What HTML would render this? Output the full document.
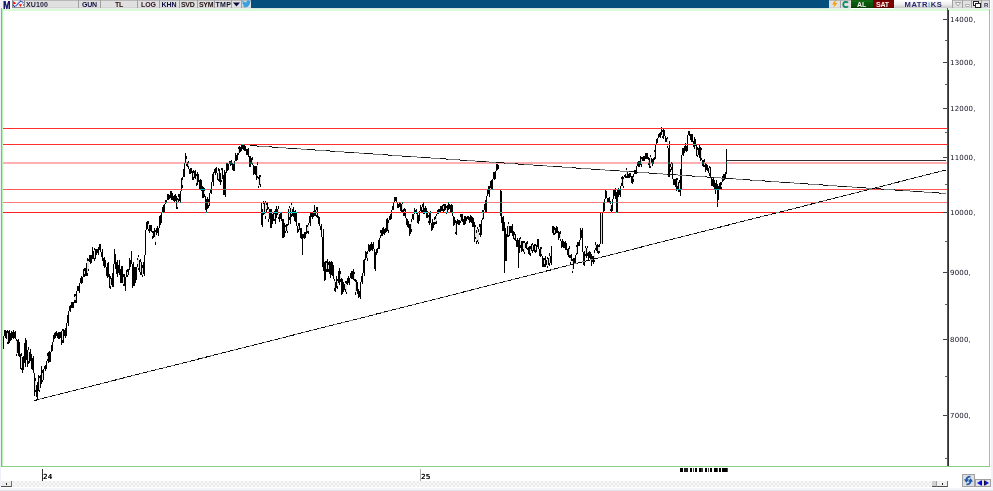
<!DOCTYPE html>
<html><head><meta charset="utf-8"><title>XU100</title>
<style>
*{margin:0;padding:0;box-sizing:border-box}
html,body{width:993px;height:491px;overflow:hidden;background:#fff}
body{position:relative;font-family:"DejaVu Sans","Liberation Sans",sans-serif}
.a{position:absolute}
.tb{position:absolute;top:0;height:9px;background:linear-gradient(#b8b8b8 0,#b8b8b8 1px,#e0e0e0 1px,#e0e0e0 7px,#d4d4d4 7px,#d4d4d4 8px,#eaeeea 8px)}
.sep{position:absolute;top:0;width:1px;height:8px;background:#a0a0a0}
.bt{position:absolute;top:1px;height:7px;font:bold 7px/7px "Liberation Sans",sans-serif;color:#1c1c3c;letter-spacing:-0.3px;white-space:nowrap}
.yl{position:absolute;left:950px;font:7px/9px "DejaVu Sans",sans-serif;color:#101020;letter-spacing:0.2px;white-space:nowrap}
.xl{position:absolute;top:473px;font:7px/8px "DejaVu Sans",sans-serif;color:#000;letter-spacing:0.3px;text-shadow:0.3px 0 0 #000}
</style></head><body>
<!-- toolbar -->
<div class="a" style="left:0;top:0;width:12px;height:9px;background:#f6f6fa"></div>
<div class="a" style="left:2.9px;top:0.5px;font:bold 10px/10px 'Liberation Sans',sans-serif;color:#1a1a6a;text-shadow:0.4px 0 0 #1a1a6a;transform:scaleX(0.88);transform-origin:0 0">M</div>
<div class="tb" style="left:12px;width:817px"></div>
<svg class="a" style="left:12px;top:0" width="13" height="9" viewBox="0 0 13 9">
<rect x="0.5" y="0" width="12" height="7.5" fill="#eef4f4" stroke="#909090"/>
<path d="M1.2 1v3.6l3-1.2z" fill="#f00"/>
<path d="M1 5.3L2.5 6.6L4.5 5.6L6 3.6L8.3 1.2L10 1.6L11.6 3.6" fill="none" stroke="#0c1aa8" stroke-width="1.2" stroke-dasharray="1.1 0.5"/>
<path d="M6.8 4.2h3.2l-1.6 2.9z" fill="#f00"/>
<rect x="11" y="4" width="0.8" height="2" fill="#e04040"/>
</svg>
<div class="bt" style="left:26px;letter-spacing:0.1px">XU100</div>
<div class="sep" style="left:78px"></div>
<div class="bt" style="left:82px;color:#101040">GUN</div>
<div class="sep" style="left:100px"></div>
<div class="bt" style="left:115px;color:#301010">TL</div>
<div class="sep" style="left:137px"></div>
<div class="bt" style="left:141px;color:#301020;letter-spacing:-0.1px">LOG</div>
<div class="sep" style="left:159px"></div>
<div class="bt" style="left:161.5px;color:#101040;letter-spacing:0px">KHN</div>
<div class="sep" style="left:179px"></div>
<div class="bt" style="left:181px;color:#201010">SVD</div>
<div class="sep" style="left:197px"></div>
<div class="bt" style="left:199px;color:#201010">SYM</div>
<div class="sep" style="left:214px"></div>
<div class="bt" style="left:215.5px;color:#101030;letter-spacing:0.3px">TMP</div>
<div class="sep" style="left:231px"></div>
<svg class="a" style="left:233px;top:2px" width="7" height="5"><path d="M0 0.5h7L3.5 4.5z" fill="#0a0a40"/></svg>
<div class="sep" style="left:241px"></div>
<svg class="a" style="left:242px;top:0" width="9" height="8" viewBox="0 0 24 20"><path d="M24 2.4c-.9.4-1.8.6-2.8.8 1-.6 1.8-1.6 2.2-2.7-1 .6-2 1-3.1 1.2C19.3.7 18 0 16.6 0c-2.7 0-4.9 2.2-4.9 4.9 0 .4 0 .8.1 1.1C7.7 5.8 4.1 3.9 1.7.9c-.4.7-.7 1.6-.7 2.5 0 1.7.9 3.2 2.2 4.1-.8 0-1.6-.2-2.2-.6v.1c0 2.4 1.7 4.4 3.9 4.8-.4.1-.8.2-1.3.2-.3 0-.6 0-.9-.1.6 2 2.4 3.4 4.6 3.4-1.7 1.3-3.8 2.1-6.1 2.1-.4 0-.8 0-1.2-.1 2.2 1.4 4.8 2.2 7.5 2.2 9.1 0 14-7.5 14-14v-.6c1-.7 1.8-1.6 2.5-2.5z" fill="#3ba0e0"/></svg>
<div class="a" style="left:251px;top:0;width:578px;height:8px;background:#044f7c"></div>
<div class="a" style="left:251px;top:8px;width:578px;height:1px;background:#dde6e6"></div>
<div class="tb" style="left:829px;width:22px"></div>
<svg class="a" style="left:831px;top:0" width="7" height="8" viewBox="0 0 7 8"><path d="M4.5 0L1 4.5h2.5L2 8l4.5-5H4L5.5 0z" fill="#f0a010"/></svg>
<div class="sep" style="left:840px"></div>
<svg class="a" style="left:842px;top:1px" width="7" height="7" viewBox="0 0 7 7"><path d="M6 1.8A2.7 2.7 0 1 0 6 5.2" fill="none" stroke="#108a64" stroke-width="1.8"/></svg>
<div class="a" style="left:851px;top:0;width:22px;height:8px;background:linear-gradient(#0a4a0a 0,#1a7a1a 1px,#0c5c0c 2px,#0a500a 6px,#063806 8px)"></div>
<div class="a" style="left:857px;top:1px;font:bold 7px/7px 'Liberation Sans',sans-serif;color:#f4f4f0">AL</div>
<div class="a" style="left:873px;top:0;width:21px;height:8px;background:linear-gradient(#6a0000,#800000 2px,#7a0000 6px,#5a0000 8px)"></div>
<div class="a" style="left:876px;top:1px;font:bold 7px/7px 'Liberation Sans',sans-serif;color:#f8f0f0;letter-spacing:-0.2px">SAT</div>
<div class="a" style="left:894px;top:0;width:59px;height:9px;background:linear-gradient(#ffffff,#f0f0f0 4px,#c8c8c8 8px,#eaeeea 8px)"></div>
<div class="a" style="left:904.5px;top:0.5px;font:bold 7.6px/7.6px 'Liberation Sans',sans-serif;color:#28286e;letter-spacing:0.55px">MATR<span style="color:#5ab0e0">i</span>KS</div>
<div class="tb" style="left:952px;width:38px"></div>
<div class="sep" style="left:952px"></div>
<div class="sep" style="left:962px"></div>
<div class="sep" style="left:971px"></div>
<div class="sep" style="left:981px"></div>
<div class="sep" style="left:989px"></div>
<svg class="a" style="left:955px;top:2px" width="7" height="5"><path d="M0.5 0.5h5L3 4z" fill="#fff" stroke="#909090" stroke-width="0.8"/></svg>
<div class="a" style="left:965px;top:4px;width:5px;height:3px;border:1px solid #b0b0b0;border-radius:1px;background:#f4f4f4"></div>
<svg class="a" style="left:973px;top:1px" width="8" height="7"><rect x="0.5" y="0.5" width="5" height="4" fill="#fff" stroke="#202020"/><rect x="2.5" y="2.5" width="5" height="4" fill="#fff" stroke="#202020"/></svg>
<div class="a" style="left:984px;top:2px;font:bold 6px/6px 'Liberation Sans',sans-serif;color:#303060">R</div>
<div class="a" style="left:991px;top:0;width:2px;height:491px;background:#f0f2f8"></div>

<!-- frame -->
<div class="a" style="left:0;top:9px;width:1px;height:482px;background:#f0f0f8"></div>
<div class="a" style="left:1px;top:8px;width:1px;height:459px;background:#a0a0a8"></div>
<svg class="a" style="left:0;top:0" width="993" height="491">
<rect x="3" y="11" width="986" height="455" fill="#fff"/>
<rect x="2" y="9" width="988" height="2" fill="#d8fcd8"/>
<rect x="2" y="9" width="1" height="458" fill="#b8f4b8"/>
<rect x="2" y="466" width="988" height="1" fill="#88d088"/>
<rect x="989" y="9" width="1" height="458" fill="#88d088"/>
<!-- candles -->
<rect x="0" y="0" width="0" height="0"/>
<path d="M3.5 336V349M4.5 330V336M5.5 330V338M6.5 331V339M7.5 330V344M8.5 331V344M9.5 330V343M10.5 333V341M11.5 331V340M12.5 332V338M13.5 330V339M14.5 332V338M15.5 331V339M16.5 339V356M17.5 340V353M18.5 339V356M19.5 342V357M20.5 354V369M21.5 353V370M22.5 357V373M23.5 356V370M24.5 343V363M25.5 338V367M26.5 340V360M27.5 350V367M28.5 347V364M29.5 352V363M30.5 349V361M31.5 354V369M32.5 358V370M33.5 356V373M34.5 373V396M35.5 378V392M36.5 385V397M37.5 382V400M38.5 375V391M39.5 376V392M40.5 375V388M41.5 366V384M42.5 370V382M43.5 369V380M44.5 366V369M45.5 365V371M46.5 361V369M47.5 353V361M48.5 352V363M49.5 351V362M50.5 352V362M51.5 345V352M52.5 342V351M53.5 335V342M54.5 333V339M55.5 332V338M56.5 331V336M57.5 333V338M58.5 332V339M59.5 332V339M60.5 332V338M61.5 331V345M62.5 329V343M63.5 329V343M64.5 330V336M65.5 328V338M66.5 323V336M67.5 315V323M68.5 311V326M69.5 306V311M70.5 305V312M71.5 302V308M72.5 302V308M73.5 302V308M74.5 294V303M75.5 294V303M76.5 291V303M77.5 286V291M78.5 286V291M79.5 283V293M80.5 278V283M81.5 276V284M82.5 277V283M83.5 269V277M84.5 268V277M85.5 268V276M86.5 263V276M87.5 258V276M88.5 259V271M89.5 255V262M90.5 255V264M91.5 255V263M92.5 247V259M93.5 251V259M94.5 248V261M95.5 249V259M96.5 249V255M97.5 249V253M98.5 247V255M99.5 244V250M100.5 244V252M101.5 252V257M102.5 249V261M103.5 258V266M104.5 257V268M105.5 260V267M106.5 267V276M107.5 263V278M108.5 262V277M109.5 274V288M110.5 276V289M111.5 278V285M112.5 273V287M113.5 264V287M114.5 249V264M115.5 254V269M116.5 262V274M117.5 260V277M118.5 265V273M119.5 260V275M120.5 269V283M121.5 266V283M122.5 266V283M123.5 274V286M124.5 274V286M125.5 277V291M126.5 270V277M127.5 269V277M128.5 269V275M129.5 258V270M130.5 260V267M131.5 251V264M132.5 264V288M133.5 262V286M134.5 267V286M135.5 267V283M136.5 267V280M137.5 258V267M138.5 255V270M139.5 260V272M140.5 259V275M141.5 262V275M142.5 265V277M143.5 262V274M144.5 255V276M145.5 230V255M146.5 222V230M147.5 221V229M148.5 221V231M149.5 225V233M150.5 225V231M151.5 225V232M152.5 231V239M153.5 231V238M154.5 228V237M155.5 230V245M156.5 228V235M157.5 226V233M158.5 228V236M159.5 216V228M160.5 215V225M161.5 213V223M162.5 207V213M163.5 205V212M164.5 204V212M165.5 200V204M166.5 200V203M167.5 194V200M168.5 194V200M169.5 195V199M170.5 191V198M171.5 191V200M172.5 193V200M173.5 196V201M174.5 195V202M175.5 194V201M176.5 196V209M177.5 198V209M178.5 194V202M179.5 194V201M180.5 191V203M181.5 178V191M182.5 177V188M183.5 169V177M184.5 163V177M185.5 153V163M186.5 156V166M187.5 162V167M188.5 161V169M189.5 169V174M190.5 168V174M191.5 168V173M192.5 171V180M193.5 170V180M194.5 171V178M195.5 170V179M196.5 174V186M197.5 172V185M198.5 174V182M199.5 180V189M200.5 179V190M201.5 180V191M202.5 186V198M203.5 187V198M204.5 188V197M205.5 196V210M206.5 199V213M207.5 197V209M208.5 199V208M209.5 193V206M210.5 189V193M211.5 182V194M212.5 174V182M213.5 172V186M214.5 169V173M215.5 168V175M216.5 167V173M217.5 173V180M218.5 168V181M219.5 169V182M220.5 173V185M221.5 168V182M222.5 168V179M223.5 175V195M224.5 170V195M225.5 172V197M226.5 163V173M227.5 163V171M228.5 164V170M229.5 161V164M230.5 161V166M231.5 160V165M232.5 163V170M233.5 164V171M234.5 161V171M235.5 153V161M236.5 155V161M237.5 153V160M238.5 147V155M239.5 146V153M240.5 147V152M241.5 145V151M242.5 144V149M243.5 144V150M244.5 145V151M245.5 146V151M246.5 149V155M247.5 149V155M248.5 148V157M249.5 156V167M250.5 156V167M251.5 158V164M252.5 157V165M253.5 165V175M254.5 166V174M255.5 166V175M256.5 166V180M257.5 162V178M258.5 177V188M259.5 175V185M260.5 175V187M261.5 203V225M262.5 209V227M263.5 201V215M264.5 203V214M265.5 201V219M266.5 203V212M267.5 202V210M268.5 207V222M269.5 209V219M270.5 209V228M271.5 209V228M272.5 214V224M273.5 212V221M274.5 211V221M275.5 209V224M276.5 206V218M277.5 209V215M278.5 206V219M279.5 214V222M280.5 212V219M281.5 213V221M282.5 219V238M283.5 219V238M284.5 223V237M285.5 225V233M286.5 224V231M287.5 224V233M288.5 209V225M289.5 206V220M290.5 208V224M291.5 203V217M292.5 209V216M293.5 207V217M294.5 211V221M295.5 210V222M296.5 212V226M297.5 226V233M298.5 223V232M299.5 223V230M300.5 228V238M301.5 228V239M302.5 234V255M303.5 234V238M304.5 232V239M305.5 232V238M306.5 225V234M307.5 225V233M308.5 223V234M309.5 216V223M310.5 213V226M311.5 213V217M312.5 213V219M313.5 211V217M314.5 205V216M315.5 210V216M316.5 207V217M317.5 207V218M318.5 216V224M319.5 217V226M320.5 226V230M321.5 224V237M322.5 237V267M323.5 229V271M324.5 262V281M325.5 261V280M326.5 261V272M327.5 259V272M328.5 262V272M329.5 261V274M330.5 262V278M331.5 261V275M332.5 262V276M333.5 265V279M334.5 279V291M335.5 282V292M336.5 276V288M337.5 279V289M338.5 271V283M339.5 268V285M340.5 271V282M341.5 278V295M342.5 279V294M343.5 282V292M344.5 284V290M345.5 281V292M346.5 281V294M347.5 278V285M348.5 276V283M349.5 278V285M350.5 273V278M351.5 271V279M352.5 271V279M353.5 269V280M354.5 272V281M355.5 279V295M356.5 280V291M357.5 282V294M358.5 289V298M359.5 291V297M360.5 282V299M361.5 276V282M362.5 273V284M363.5 260V273M364.5 259V276M365.5 251V260M366.5 252V258M367.5 251V261M368.5 244V251M369.5 245V252M370.5 244V251M371.5 242V250M372.5 244V251M373.5 242V249M374.5 249V269M375.5 252V271M376.5 249V255M377.5 248V253M378.5 240V249M379.5 238V249M380.5 230V238M381.5 230V236M382.5 228V236M383.5 227V234M384.5 229V235M385.5 228V233M386.5 219V232M387.5 218V231M388.5 220V233M389.5 216V220M390.5 214V220M391.5 210V219M392.5 206V210M393.5 202V210M394.5 197V202M395.5 197V201M396.5 197V202M397.5 202V208M398.5 204V208M399.5 202V207M400.5 203V211M401.5 204V213M402.5 202V212M403.5 209V216M404.5 208V216M405.5 209V218M406.5 218V225M407.5 219V227M408.5 221V228M409.5 224V236M410.5 224V234M411.5 219V232M412.5 214V219M413.5 214V220M414.5 208V214M415.5 210V213M416.5 209V214M417.5 212V223M418.5 215V224M419.5 211V221M420.5 205V211M421.5 207V212M422.5 204V212M423.5 202V214M424.5 208V214M425.5 206V213M426.5 208V218M427.5 211V218M428.5 215V223M429.5 212V225M430.5 211V223M431.5 223V231M432.5 219V230M433.5 222V228M434.5 217V225M435.5 216V224M436.5 214V224M437.5 210V214M438.5 209V214M439.5 209V213M440.5 206V212M441.5 206V211M442.5 205V211M443.5 204V212M444.5 204V211M445.5 204V210M446.5 206V214M447.5 205V212M448.5 202V210M449.5 204V209M450.5 205V212M451.5 204V212M452.5 205V216M453.5 216V226M454.5 217V225M455.5 220V234M456.5 221V235M457.5 219V224M458.5 220V225M459.5 220V225M460.5 214V223M461.5 214V221M462.5 214V222M463.5 219V225M464.5 216V225M465.5 216V224M466.5 217V221M467.5 216V219M468.5 216V220M469.5 217V223M470.5 215V222M471.5 216V223M472.5 217V227M473.5 218V227M474.5 222V242M475.5 225V239M476.5 230V244M477.5 227V242M478.5 229V244M479.5 224V235M480.5 224V237M481.5 220V235M482.5 210V220M483.5 210V219M484.5 204V210M485.5 200V212M486.5 196V212M487.5 189V196M488.5 186V194M489.5 186V197M490.5 181V188M491.5 180V189M492.5 179V190M493.5 172V179M494.5 172V180M495.5 171V179M496.5 164V171M497.5 164V170M498.5 165V169M500.5 190V216M501.5 191V223M502.5 217V231M503.5 216V231M504.5 222V273M505.5 228V261M506.5 234V261M507.5 226V237M508.5 222V237M509.5 226V236M510.5 226V233M511.5 226V233M512.5 224V236M513.5 231V239M514.5 232V240M515.5 234V241M516.5 240V247M517.5 238V247M518.5 240V268M519.5 238V253M520.5 237V248M521.5 241V252M522.5 241V251M523.5 241V252M524.5 241V254M525.5 243V248M526.5 242V249M527.5 241V250M528.5 247V254M529.5 246V255M530.5 246V256M531.5 244V251M532.5 243V253M533.5 245V251M534.5 244V252M535.5 244V253M536.5 245V252M537.5 239V247M538.5 239V249M539.5 249V256M540.5 247V257M541.5 247V256M542.5 256V267M543.5 258V267M544.5 258V267M545.5 256V267M546.5 260V265M547.5 257V268M548.5 258V265M549.5 253V266M550.5 256V263M551.5 246V265M552.5 226V233M553.5 226V235M554.5 227V235M555.5 228V234M556.5 226V233M557.5 227V233M558.5 231V240M559.5 232V238M560.5 231V241M561.5 241V248M562.5 239V247M563.5 241V248M564.5 242V248M565.5 241V250M566.5 243V250M567.5 249V255M568.5 248V257M569.5 246V258M570.5 255V264M571.5 254V261M572.5 259V273M573.5 258V269M574.5 258V263M575.5 255V264M576.5 245V255M577.5 242V254M578.5 242V246M579.5 240V246M580.5 228V240M581.5 230V238M582.5 228V252M583.5 252V265M584.5 251V266M585.5 246V256M586.5 248V258M587.5 246V256M588.5 252V261M589.5 251V258M590.5 252V260M591.5 254V266M592.5 256V262M593.5 256V264M594.5 250V262M595.5 242V250M596.5 245V251M597.5 244V253M598.5 245V254M599.5 244V253M600.5 213V244M601.5 215V243M602.5 213V244M603.5 202V213M604.5 199V211M605.5 190V199M606.5 191V198M607.5 198V202M608.5 198V202M609.5 197V203M610.5 201V211M611.5 205V213M612.5 199V211M613.5 190V199M614.5 190V196M615.5 188V199M616.5 192V213M617.5 190V212M618.5 188V197M619.5 189V195M620.5 186V197M621.5 177V186M622.5 176V186M623.5 177V188M624.5 175V177M625.5 174V178M626.5 168V178M627.5 171V178M628.5 174V178M629.5 173V178M630.5 173V177M631.5 176V183M632.5 176V184M633.5 174V182M634.5 170V174M635.5 170V174M636.5 166V174M637.5 162V166M638.5 161V167M639.5 161V167M640.5 156V165M641.5 157V167M642.5 157V161M643.5 156V161M644.5 156V161M645.5 153V159M646.5 153V159M647.5 153V159M648.5 157V165M649.5 158V168M650.5 155V168M651.5 158V163M652.5 159V166M653.5 158V164M654.5 150V160M655.5 144V159M656.5 139V144M657.5 138V143M658.5 134V138M659.5 133V137M660.5 132V138M661.5 127V135M662.5 130V138M663.5 129V139M664.5 130V136M665.5 136V142M666.5 138V142M667.5 137V148M668.5 148V177M669.5 141V177M670.5 164V172M671.5 162V170M672.5 163V179M673.5 179V185M674.5 179V185M675.5 179V187M676.5 178V191M677.5 178V189M678.5 182V192M679.5 180V192M680.5 169V196M681.5 155V190M682.5 148V155M683.5 148V156M684.5 146V153M685.5 143V151M686.5 146V152M687.5 135V151M688.5 131V135M689.5 131V136M690.5 134V140M691.5 134V142M692.5 134V142M693.5 141V147M694.5 137V149M695.5 139V146M696.5 145V156M697.5 147V157M698.5 148V155M699.5 144V158M700.5 147V161M701.5 148V160M702.5 160V166M703.5 160V167M704.5 159V167M705.5 163V172M706.5 164V170M707.5 165V171M708.5 168V173M709.5 166V176M710.5 167V177M711.5 177V186M712.5 179V186M713.5 178V187M714.5 180V190M715.5 183V194M716.5 180V190M717.5 184V207M718.5 186V200M719.5 183V189M720.5 182V189M721.5 182V190M722.5 176V182M723.5 174V181M724.5 174V180M725.5 172V178" stroke="#000" stroke-width="1" fill="none" shape-rendering="crispEdges"/>
<path d="M7.5 333V342M16.5 341V354M21.5 356V368M28.5 350V361M35.5 381V390M39.5 378V390M42.5 373V380M47.5 356V359M62.5 331V340M74.5 297V300M75.5 296V300M84.5 271V274M87.5 261V273M88.5 261V269M94.5 250V258M110.5 279V286M123.5 277V284M127.5 272V275M137.5 260V264M138.5 257V268M140.5 262V272M142.5 268V275M148.5 224V229M152.5 233V236M155.5 232V242M177.5 200V207M178.5 197V199M182.5 180V185M186.5 159V164M188.5 163V166M193.5 173V177M196.5 176V183M204.5 191V194M208.5 202V205M218.5 171V179M221.5 170V180M238.5 149V153M252.5 160V163M257.5 165V176M258.5 179V186M260.5 177V184M263.5 204V212M265.5 203V216M266.5 205V209M268.5 209V219M274.5 214V219M278.5 209V217M285.5 227V231M287.5 226V231M289.5 208V217M291.5 205V214M298.5 226V229M307.5 227V231M308.5 225V231M316.5 210V215M326.5 263V269M328.5 265V269M334.5 281V288M337.5 281V286M340.5 274V279M345.5 283V289M346.5 284V292M354.5 274V279M355.5 282V292M367.5 254V258M380.5 233V235M388.5 223V230M402.5 204V210M404.5 211V213M411.5 222V229M422.5 207V210M428.5 217V221M434.5 220V222M435.5 219V222M436.5 216V221M443.5 206V209M446.5 208V212M455.5 223V232M460.5 217V221M475.5 227V237M476.5 233V241M477.5 229V240M478.5 232V242M479.5 227V233M482.5 213V218M508.5 224V235M514.5 235V238M520.5 239V245M523.5 243V249M524.5 243V252M527.5 244V248M530.5 249V253M532.5 245V250M535.5 246V250M541.5 249V254M544.5 260V264M547.5 259V266M549.5 256V263M554.5 230V233M560.5 234V239M569.5 249V255M570.5 258V262M572.5 261V271M576.5 247V253M585.5 248V254M587.5 248V253M594.5 253V260M595.5 245V248M598.5 247V251M599.5 247V251M610.5 204V209M621.5 179V183M623.5 179V186M626.5 170V176M633.5 177V179M641.5 159V164M648.5 160V163M650.5 157V166M654.5 152V157M662.5 132V136M667.5 139V146M670.5 167V169M671.5 164V167M677.5 180V186M679.5 183V189M697.5 150V155M701.5 150V158M704.5 162V165M709.5 168V173M721.5 185V187" stroke="#e4e4e4" stroke-width="1" fill="none" shape-rendering="crispEdges"/>
<rect x="601" y="215" width="1" height="28" fill="#d8d8d8"/>
<rect x="726" y="149" width="1" height="25" fill="#000"/>
<!-- red lines (xor-like) -->
<g style="mix-blend-mode:difference" shape-rendering="crispEdges">
<rect x="3" y="128" width="944" height="1" fill="#00d0d0"/>
<rect x="3" y="144" width="944" height="1" fill="#00d0d0"/>
<rect x="3" y="162" width="944" height="2" fill="#005050"/>
<rect x="3" y="189" width="944" height="1" fill="#00a8a8"/>
<rect x="3" y="202" width="944" height="1" fill="#008888"/>
<rect x="3" y="212" width="944" height="1" fill="#00e0e0"/>
</g>
<!-- trend lines -->
<g shape-rendering="crispEdges" stroke-width="1">
<line x1="250" y1="145.5" x2="946" y2="193.5" stroke="#7a7a7a"/>
<line x1="250" y1="145.5" x2="946" y2="193.5" stroke="#111" stroke-dasharray="9 10"/>
<line x1="34.5" y1="400.5" x2="946" y2="170" stroke="#8a8a8a"/>
<line x1="34.5" y1="400.5" x2="946" y2="170" stroke="#000" stroke-dasharray="5 3"/>
</g>
<rect x="727" y="160" width="219" height="1" fill="#303030"/>
<!-- axis -->
<rect x="947" y="8" width="1" height="458" fill="#8e2a9e"/>
<rect x="948" y="10" width="1" height="456" fill="#303030"/>
<rect x="943" y="19" width="4" height="1" fill="#404040"/><rect x="943" y="62" width="4" height="1" fill="#404040"/><rect x="943" y="108" width="4" height="1" fill="#404040"/><rect x="943" y="157" width="4" height="1" fill="#404040"/><rect x="943" y="212" width="4" height="1" fill="#404040"/><rect x="943" y="272" width="4" height="1" fill="#404040"/><rect x="943" y="339" width="4" height="1" fill="#404040"/><rect x="943" y="415" width="4" height="1" fill="#404040"/><rect x="945" y="40" width="2" height="1" fill="#606060"/><rect x="945" y="84" width="2" height="1" fill="#606060"/><rect x="945" y="132" width="2" height="1" fill="#606060"/><rect x="945" y="184" width="2" height="1" fill="#606060"/><rect x="945" y="241" width="2" height="1" fill="#606060"/><rect x="945" y="304" width="2" height="1" fill="#606060"/><rect x="945" y="376" width="2" height="1" fill="#606060"/><rect x="945" y="458" width="2" height="1" fill="#606060"/>
<!-- x axis -->
<rect x="42" y="469" width="1" height="12" fill="#303030"/>
<rect x="420" y="469" width="1" height="12" fill="#b0b0b0"/>
<g fill="#000">
<rect x="680" y="468" width="3" height="4"/><rect x="684" y="468" width="4" height="4" fill="#202020"/>
<rect x="690" y="468" width="2" height="4"/><rect x="693" y="468" width="1" height="4" fill="#444"/><rect x="695" y="468" width="2" height="4"/>
<rect x="699" y="468" width="2" height="4"/><rect x="701" y="468" width="2" height="4" fill="#333"/>
<rect x="705" y="468" width="2" height="4"/><rect x="708" y="468" width="1" height="4" fill="#444"/><rect x="710" y="468" width="2" height="4"/>
<rect x="714" y="468" width="3" height="4"/><rect x="717" y="468" width="1" height="4" fill="#444"/><rect x="719" y="468" width="2" height="4"/>
<rect x="722" y="468" width="5" height="4"/><rect x="727" y="468" width="1" height="4" fill="#444"/>
</g>
</svg>
<div class="yl" style="top:16px">14000,</div><div class="yl" style="top:59px">13000,</div><div class="yl" style="top:105px">12000,</div><div class="yl" style="top:154px">11000,</div><div class="yl" style="top:209px">10000,</div><div class="yl" style="top:269px">9000,</div><div class="yl" style="top:336px">8000,</div><div class="yl" style="top:412px">7000,</div>
<div class="xl" style="left:43px">24</div>
<div class="xl" style="left:421px">25</div>
<!-- bottom scrollbar -->
<div class="a" style="left:1px;top:481px;width:947px;height:6px;background:repeating-conic-gradient(#f8f8f8 0 25%,#ececec 0 50%) 0 0/4px 4px"></div>
<div class="a" style="left:1px;top:481px;width:11px;height:6px;background:#ececec;border-right:1px solid #707070;border-bottom:1px solid #505050"></div>
<div class="a" style="left:6px;top:483px;width:1px;height:2px;background:#202020"></div>
<div class="a" style="left:932px;top:481px;width:4px;height:6px;background:#d0d0d0;border-bottom:1px solid #505050"></div>
<div class="a" style="left:936px;top:481px;width:12px;height:6px;background:#f0f0f0;border-right:1px solid #707070;border-bottom:1px solid #505050;border-left:1px solid #a0a0a0"></div>
<div class="a" style="left:942px;top:483px;width:1px;height:2px;background:#202020"></div>
<div class="a" style="left:962px;top:474px;width:13px;height:13px;background:#dedede;border:1px solid #a0a0a0"></div>
<svg class="a" style="left:962px;top:474px" width="13" height="13" viewBox="0 0 13 13"><path d="M8.4 1.8C6 1.6 4 3 3.6 5.2L2 5.4 4.4 8.8 7 5.4 5.4 5.3C5.8 4.2 6.8 3.4 8.6 3.2z" fill="#1a56ac"/><path d="M4.6 11.2C7 11.4 9 10 9.4 7.8L11 7.6 8.6 4.2 6 7.6 7.6 7.7C7.2 8.8 6.2 9.6 4.4 9.8z" fill="#1a56ac"/></svg>
<div class="a" style="left:975px;top:479px;width:16px;height:8px;background:#e2e2e2;border:1px solid #a0a0a0"></div>
<svg class="a" style="left:975px;top:479px" width="16" height="8"><path d="M2 4L6 1.5v5z" fill="#1010e0"/><path d="M14 4L10 1.5v5z" fill="#1010e0"/><rect x="6" y="1.5" width="1" height="5" fill="#101030"/><rect x="9" y="1.5" width="1" height="5" fill="#101030"/></svg>
<div class="a" style="left:0;top:488px;width:993px;height:2px;background:#f2f4f8"></div><div class="a" style="left:0;top:490px;width:993px;height:1px;background:#e0e2e8"></div>
</body></html>
